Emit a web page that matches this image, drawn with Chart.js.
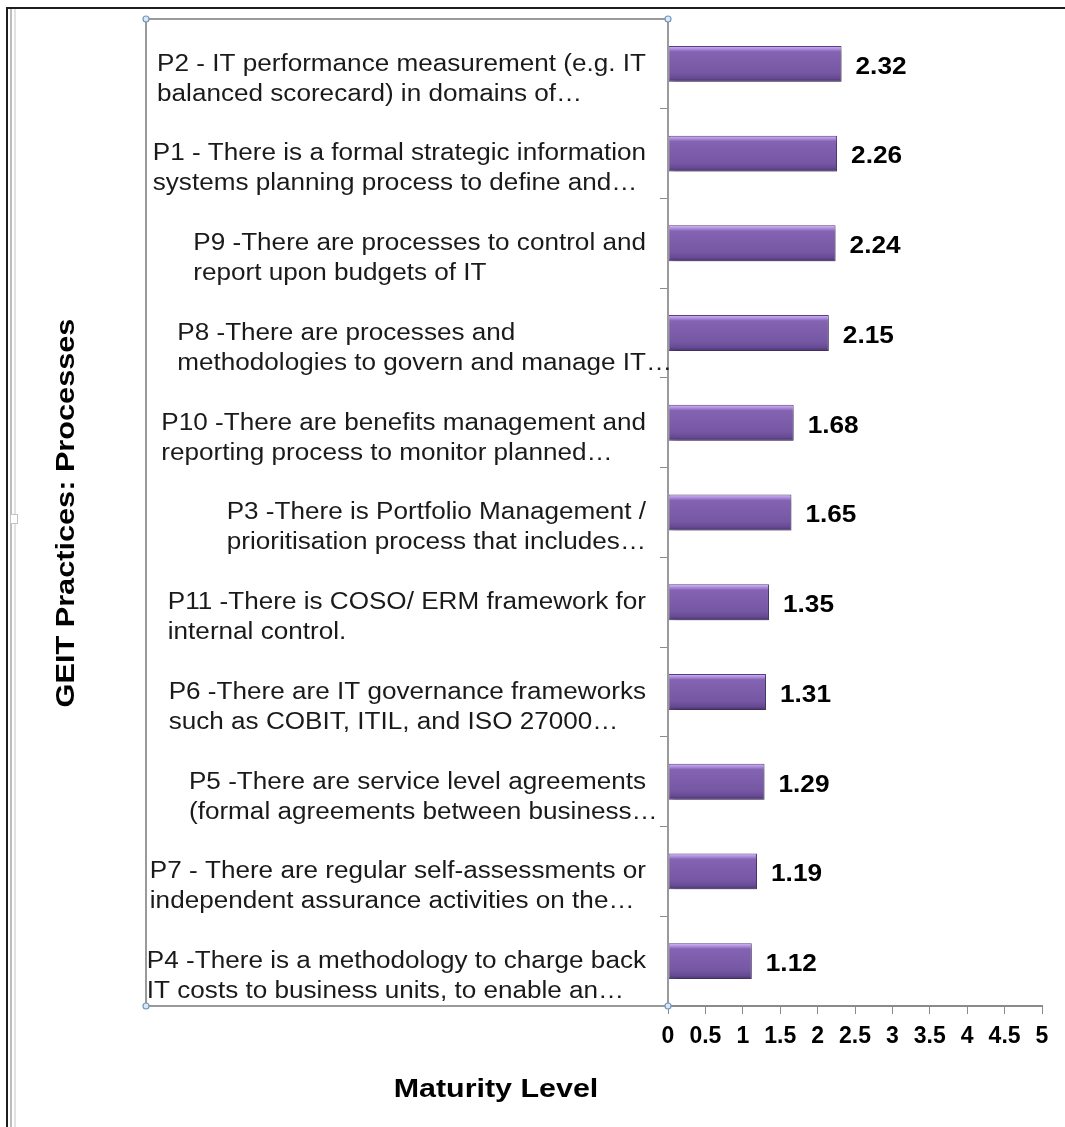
<!DOCTYPE html>
<html>
<head>
<meta charset="utf-8">
<script src="https://cdn.jsdelivr.net/npm/chart.js@4.4.1/dist/chart.umd.min.js"></script>
<style>
  html, body { margin: 0; padding: 0; background: #fff; }
  #wrap { width: 1065px; height: 1127px; position: relative; }
</style>
</head>
<body>
<div id="wrap"><canvas id="myChart"></canvas></div>
<script>
// practice labels, two lines each as they appear on the axis
const practices = [
  ['P2 - IT performance measurement (e.g. IT', 'balanced scorecard) in domains of…'],
  ['P1 - There is a formal strategic information', 'systems planning process to define and…'],
  ['P9 -There are processes to control and', 'report upon budgets of IT'],
  ['P8 -There are processes and', 'methodologies to govern and manage IT…'],
  ['P10 -There are benefits management and', 'reporting process to monitor planned…'],
  ['P3 -There is Portfolio Management /', 'prioritisation process that includes…'],
  ['P11 -There is COSO/ ERM framework for', 'internal control.'],
  ['P6 -There are IT governance frameworks', 'such as COBIT, ITIL, and ISO 27000…'],
  ['P5 -There are service level agreements', '(formal agreements between business…'],
  ['P7 - There are regular self-assessments or', 'independent assurance activities on the…'],
  ['P4 -There is a methodology to charge back', 'IT costs to business units, to enable an…']
];
const maturity = [2.32, 2.26, 2.24, 2.15, 1.68, 1.65, 1.35, 1.31, 1.29, 1.19, 1.12];
const xMin = 0;
const xMax = 5;
const xStep = 0.5;

const FONT = '"Liberation Sans", Arial, sans-serif';
const chartCanvas = document.getElementById('myChart');

// text in this chart runs a bit wide, so stretch it along the baseline
function wideText(ctx, text, x, y, sx) {
  ctx.save();
  ctx.translate(x, y);
  ctx.scale(sx, 1);
  ctx.fillText(text, 0, 0);
  ctx.restore();
}

// purple bevelled fill for each bar
function barFill(ctx) {
  const chart = ctx.chart;
  const y = chart.scales.y;
  if (!y || ctx.dataIndex === undefined) return '#7b5ca7';
  const c = y.getPixelForValue(ctx.dataIndex);
  const half = (y.height / practices.length) * 0.4 / 2;
  if (!Number.isFinite(c) || !Number.isFinite(half) || half <= 0) return '#7b5ca7';
  const g = chart.ctx.createLinearGradient(0, c - half, 0, c + half);
  g.addColorStop(0, '#d2b4fa');
  g.addColorStop(0.07, '#b596e6');
  g.addColorStop(0.16, '#8464b2');
  g.addColorStop(0.75, '#7657a4');
  g.addColorStop(0.9, '#664a93');
  g.addColorStop(1, '#4a326c');
  return g;
}

const framePlugin = {
  id: 'frame',
  beforeDraw(chart) {
    const ctx = chart.ctx;
    const W = chart.width, H = chart.height;
    ctx.save();
    ctx.fillStyle = '#fff';
    ctx.fillRect(0, 0, W, H);
    // outer window edges
    ctx.strokeStyle = '#bdbdbd';
    ctx.lineWidth = 2;
    ctx.beginPath(); ctx.moveTo(11, 9); ctx.lineTo(11, H); ctx.stroke();
    ctx.strokeStyle = '#e2e2e2';
    ctx.beginPath(); ctx.moveTo(15, 9); ctx.lineTo(15, H); ctx.stroke();
    ctx.strokeStyle = '#1e1e1e';
    ctx.lineWidth = 2;
    ctx.beginPath(); ctx.moveTo(W, 8); ctx.lineTo(7, 8); ctx.lineTo(7, H); ctx.stroke();
    // side handle
    ctx.fillStyle = '#fff';
    ctx.strokeStyle = '#c4c4c4';
    ctx.lineWidth = 1;
    ctx.fillRect(10.5, 514.5, 7, 9);
    ctx.strokeRect(10.5, 514.5, 7, 9);
    ctx.restore();
  },
  afterDraw(chart) {
    const ctx = chart.ctx;
    const a = chart.chartArea;
    ctx.save();
    // plot-area selection box
    ctx.strokeStyle = '#9a9a9a';
    ctx.lineWidth = 2;
    ctx.strokeRect(146, a.top, a.left - 146, a.bottom - a.top);
    const corners = [[146, a.top], [a.left, a.top], [146, a.bottom], [a.left, a.bottom]];
    corners.forEach(([x, y]) => {
      ctx.beginPath();
      ctx.arc(x, y, 3, 0, Math.PI * 2);
      ctx.fillStyle = '#dce8f4';
      ctx.fill();
      ctx.strokeStyle = '#6f97c2';
      ctx.lineWidth = 1.2;
      ctx.stroke();
    });
    // axis titles
    ctx.fillStyle = '#000';
    ctx.font = 'bold 26px ' + FONT;
    ctx.textAlign = 'center';
    ctx.textBaseline = 'middle';
    wideText(ctx, 'Maturity Level', 496, 1090, 1.17);
    ctx.translate(67, 513);
    ctx.rotate(-Math.PI / 2);
    wideText(ctx, 'GEIT Practices: Processes', 0, 0, 1.18);
    ctx.restore();
  }
};

// category text: lines left-aligned, block set against the axis
const categoryLabels = {
  id: 'categoryLabels',
  afterDraw(chart) {
    const ctx = chart.ctx;
    const y = chart.scales.y;
    const axisX = chart.chartArea.left;
    const sx = 1.135;
    ctx.save();
    ctx.font = '23px ' + FONT;
    ctx.fillStyle = '#1a1a1a';
    ctx.textAlign = 'left';
    ctx.textBaseline = 'middle';
    practices.forEach((lines, i) => {
      const c = y.getPixelForValue(i);
      const w = sx * Math.max(...lines.map(s => ctx.measureText(s.replace(/…$/, '')).width));
      const x0 = axisX - 22 - w;
      lines.forEach((s, k) => wideText(ctx, s, x0, c + 0.5 + k * 30, sx));
    });
    ctx.restore();
  }
};

const valueLabels = {
  id: 'valueLabels',
  afterDatasetsDraw(chart) {
    const ctx = chart.ctx;
    const meta = chart.getDatasetMeta(0);
    ctx.save();
    ctx.font = 'bold 23px ' + FONT;
    ctx.fillStyle = '#000';
    ctx.textAlign = 'left';
    ctx.textBaseline = 'middle';
    meta.data.forEach((bar, i) => {
      wideText(ctx, maturity[i].toFixed(2), bar.x + 14, bar.y + 3.5, 1.14);
    });
    ctx.restore();
  }
};

const shadowPlugin = {
  id: 'barShadow',
  beforeDatasetDraw(chart) {
    const ctx = chart.ctx;
    ctx.save();
    ctx.shadowColor = 'rgba(0,0,0,0.35)';
    ctx.shadowBlur = 5;
    ctx.shadowOffsetX = 2;
    ctx.shadowOffsetY = 3;
  },
  afterDatasetDraw(chart) {
    chart.ctx.restore();
  }
};

const data = {
  labels: practices,
  datasets: [
    {
      label: 'Maturity Level',
      data: maturity,
      backgroundColor: barFill,
      borderColor: '#5a4283',
      borderWidth: 1,
      borderSkipped: false,
      categoryPercentage: 1,
      barPercentage: 0.4
    }
  ]
};

const config = {
  type: 'bar',
  data: data,
  options: {
    indexAxis: 'y',
    responsive: true,
    maintainAspectRatio: false,
    animation: false,
    layout: { padding: { top: 19, right: 23, left: 0, bottom: 0 } },
    plugins: {
      legend: { display: false },
      tooltip: { enabled: false },
      title: { display: false }
    },
    scales: {
      x: {
        min: xMin,
        max: xMax,
        ticks: {
          stepSize: xStep,
          color: '#000',
          font: { family: FONT, size: 23, weight: 'bold' },
          padding: 9,
          maxRotation: 0,
          autoSkip: false,
          callback: v => String(Number(v))
        },
        grid: { drawOnChartArea: false, drawTicks: true, tickLength: 8, color: '#8a8a8a' },
        border: { display: true, color: '#8a8a8a', width: 2 },
        afterFit(scale) { scale.height = 121; }
      },
      y: {
        ticks: { display: false },
        grid: { drawOnChartArea: false, drawTicks: true, tickLength: 8, color: '#8a8a8a', offset: true },
        border: { display: true, color: '#8a8a8a', width: 2 },
        afterFit(scale) { scale.width = 668; }
      }
    }
  },
  plugins: [framePlugin, categoryLabels, valueLabels, shadowPlugin]
};

const myChart = new Chart(chartCanvas, config);
</script>
</body>
</html>
